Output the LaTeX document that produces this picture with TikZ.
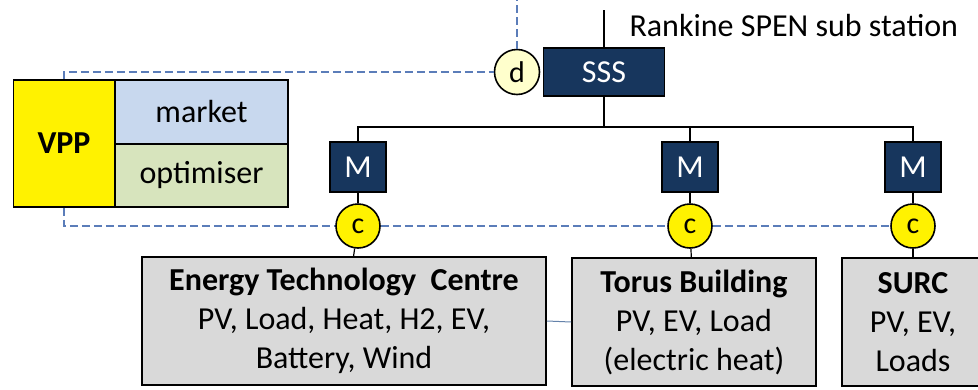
\documentclass[tikz,border=0pt]{standalone}
\usepackage{fontspec}
\setmainfont{Carlito}
\definecolor{navy}{RGB}{23,54,93}
\definecolor{mktBlue}{RGB}{200,216,238}
\definecolor{optGreen}{RGB}{215,228,189}
\definecolor{siteGray}{RGB}{217,217,217}
\definecolor{dCream}{RGB}{255,255,204}
\definecolor{sigBlue}{RGB}{91,125,185}
\definecolor{linkBlue}{RGB}{100,130,170}
\begin{document}
\begin{tikzpicture}[x=1pt, y=-1pt, font=\fontsize{32}{39}\selectfont,
  blk/.style={draw, line width=1.6pt, inner sep=0pt},
  site/.style={blk, fill=siteGray, align=center, minimum height=128pt},
  meter/.style={blk, fill=navy, text=white, minimum width=56pt, minimum height=50pt},
  ctrl/.style={circle, draw, line width=1.6pt, fill=yellow, minimum size=44pt, inner sep=0pt, font=\fontsize{30}{30}\selectfont},
  sig/.style={draw=sigBlue, line width=2pt, dash pattern=on 8pt off 4pt}]
\clip (0,0) rectangle (978,389);
% vpp block
\node[blk, fill=yellow, minimum width=101pt, minimum height=127pt] (vpp) at (64,143.5) {\textbf{VPP}};
\node[blk, fill=mktBlue, minimum width=173pt, minimum height=64pt] (mkt) at (201.5,112) {market};
\node[blk, fill=optGreen, minimum width=173pt, minimum height=63pt] (opt) at (201.5,175.5) {optimiser};
% substation
\node[blk, fill=navy, text=white, minimum width=121pt, minimum height=48pt] (sss) at (604,72) {SSS};
\node[ctrl, fill=dCream, minimum size=45pt] (d) at (517,72) {d};
\node[anchor=west] (rankine) at (626,26) {Rankine SPEN sub station};
\coordinate (feed) at (604,10);
\coordinate (dtop) at (517,0);
\coordinate (busL) at (358,127);
\coordinate (busR) at (913,127);
% sites
\node[site, minimum width=404pt] (etc) at (344,321) {\textbf{Energy Technology\ \ Centre}\\PV, Load, Heat, H2, EV,\\Battery, Wind};
\node[site, minimum width=244pt] (torus) at (694,322) {\textbf{Torus Building}\\PV, EV, Load\\(electric heat)};
\node[site, minimum width=142pt] (surc) at (913,322) {\textbf{SURC}\\PV, EV,\\Loads};
% meters and controllers
\foreach \x/\n in {358/1,690/2,913/3} {
  \node[meter] (m\n) at (\x,167) {M};
  \node[ctrl] (c\n) at (\x,226) {c};
  \draw[line width=1.2pt] (m\n) -- (c\n);
}
\draw[line width=1.2pt] (c1) -- (etc);
\draw[line width=1.2pt] (c2) -- (torus);
\draw[line width=1.2pt] (c3) -- (surc);
% power lines
\draw[line width=1.2pt] (feed) -- (sss.north);
\draw[line width=1.2pt] (sss.south) -- (sss.south |- busL);
\draw[line width=1.2pt] (m1.north) -- (busL) -- (busR) -- (m3.north);
\draw[line width=1.2pt] (m2.north) -- (m2.north |- busL);
\draw[linkBlue, line width=1pt] (etc.east) -- (torus.west);
% control signals
\draw[sig] (vpp.north) |- (d.west);
\draw[sig] (d.north) -- (dtop);
\draw[sig] (vpp.south) |- (c1.west);
\draw[sig] (c1.east) -- (c2.west);
\draw[sig] (c2.east) -- (c3.west);
\end{tikzpicture}
\end{document}
